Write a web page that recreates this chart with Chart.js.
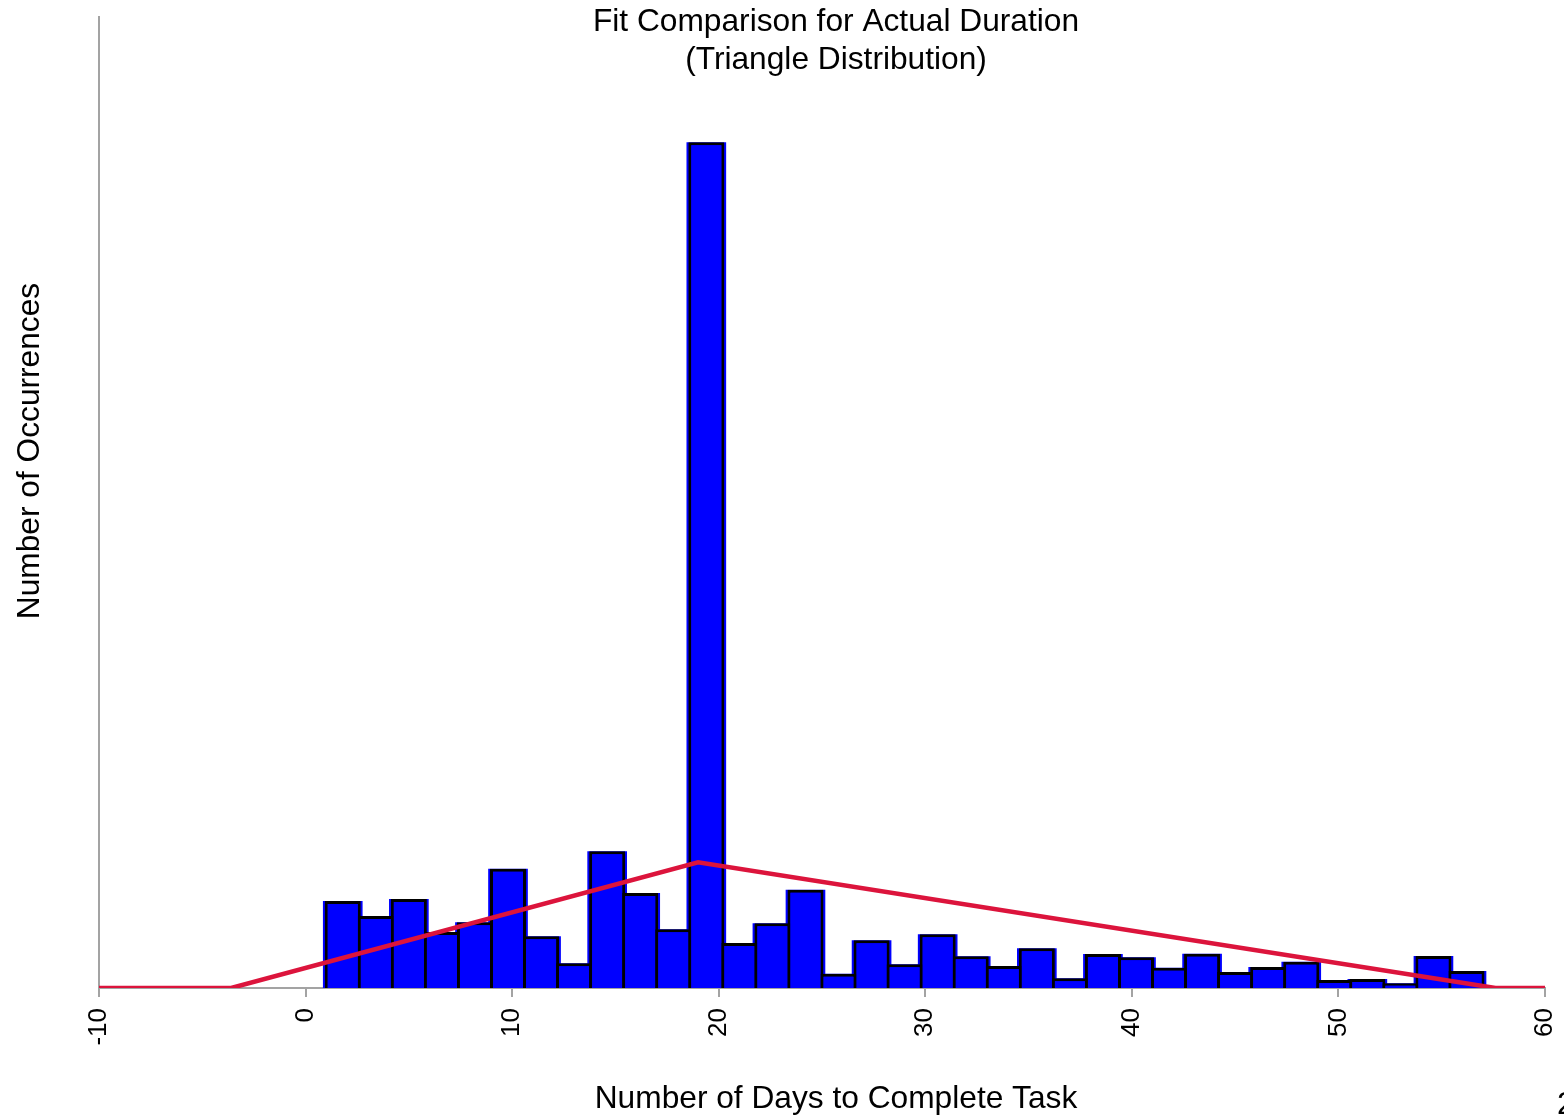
<!DOCTYPE html>
<html>
<head>
<meta charset="utf-8">
<title>Fit Comparison for Actual Duration</title>
<script src="https://cdn.jsdelivr.net/npm/chart.js@4/dist/chart.umd.min.js"></script>
<style>
  html, body { margin: 0; padding: 0; background: #ffffff; }
  #wrap { position: relative; width: 1564px; height: 1118px; }
</style>
</head>
<body>
<div id="wrap"><canvas id="chart" width="1564" height="1118"></canvas></div>
<script>
// Histogram bin centres (days), bins 1.6 days wide from 1 to 57
const binCenters = [1.8, 3.4, 5.0, 6.6, 8.2, 9.8, 11.4, 13.0, 14.6, 16.2, 17.8, 19.4,
  21.0, 22.6, 24.2, 25.8, 27.4, 29.0, 30.6, 32.2, 33.8, 35.4, 37.0, 38.6, 40.2, 41.8,
  43.4, 45.0, 46.6, 48.2, 49.8, 51.4, 53.0, 54.6, 56.2];

// Occurrences per bin
const occurrences = [87, 72, 89, 56, 65.7, 119.3, 51.7, 24.7, 136.7, 95, 58.7, 845.7,
  45, 64.7, 98.3, 14.3, 47.7, 23.7, 53.7, 31.7, 22, 39.7, 9.7, 34, 30.7, 20.3, 34.3,
  16, 21, 26.3, 8, 9, 4.7, 32, 17];

// Fitted triangle distribution (min, mode, max), scaled to the histogram
const fitDays = [-10, -3.6, 19, 57.6, 60];
const fitCounts = [0, 0, 125.7, 0, 0];

// Axis ticks
const xTicks = [-10, 0, 10, 20, 30, 40, 50, 60];

const titleLines = ['Fit Comparison for Actual Duration', '(Triangle Distribution)'];
const xTitle = 'Number of Days to Complete Task';
const yTitle = 'Number of Occurrences';
const pageNumber = '2';

const FONT = "'Liberation Sans', Arial, Helvetica, sans-serif";
const AXIS_GREY = '#a3a3a3';

const histPoints = binCenters.map((d, i) => ({ x: d, y: occurrences[i] }));
const fitPoints = fitDays.map((d, i) => ({ x: d, y: fitCounts[i] }));

// Titles and axis captions
const captions = {
  id: 'captions',
  afterDraw(chart) {
    const { ctx } = chart;
    const cx = 836;
    ctx.save();
    ctx.fillStyle = '#000000';
    ctx.font = '31.7px ' + FONT;
    ctx.textAlign = 'center';
    ctx.textBaseline = 'alphabetic';
    ctx.fillText(titleLines[0], cx, 31);
    ctx.fillText(titleLines[1], cx, 69);
    ctx.fillText(xTitle, cx, 1108);

    ctx.save();
    ctx.translate(30, 451);
    ctx.rotate(-Math.PI / 2);
    ctx.textBaseline = 'middle';
    ctx.fillText(yTitle, 0, 0);
    ctx.restore();

    ctx.textAlign = 'left';
    ctx.fillText(pageNumber, 1557, 1114);
    ctx.restore();
  }
};

new Chart(document.getElementById('chart'), {
  type: 'bar',
  data: {
    datasets: [
      {
        type: 'line',
        label: 'Triangle fit',
        data: fitPoints,
        borderColor: '#dc143c',
        borderWidth: 4.5,
        pointRadius: 0,
        tension: 0,
        fill: false,
        order: 0
      },
      {
        label: 'Actual duration',
        data: histPoints,
        backgroundColor: '#0000ff',
        borderColor: '#000000',
        borderWidth: 3,
        borderSkipped: 'start',
        grouped: false,
        barPercentage: 1.09,
        categoryPercentage: 1,
        order: 1
      },
      {
        label: 'Actual duration (fill)',
        data: histPoints,
        backgroundColor: '#0000ff',
        borderWidth: 0,
        grouped: false,
        barPercentage: 1.2,
        categoryPercentage: 1,
        order: 2
      }
    ]
  },
  options: {
    responsive: false,
    animation: false,
    devicePixelRatio: 1,
    layout: { padding: { left: 99, right: 19, top: 17, bottom: 0 } },
    plugins: {
      legend: { display: false },
      title: { display: false },
      tooltip: { enabled: false }
    },
    scales: {
      x: {
        type: 'linear',
        offset: false,
        min: -10,
        max: 60,
        afterBuildTicks(scale) { scale.ticks = xTicks.map(v => ({ value: v })); },
        afterFit(scale) {
          scale.height = 130;
          scale.paddingLeft = 0;
          scale.paddingRight = 0;
        },
        grid: {
          display: true,
          offset: false,
          drawOnChartArea: false,
          drawTicks: true,
          tickLength: 9,
          color: AXIS_GREY,
          lineWidth: 2
        },
        border: { display: true, color: AXIS_GREY, width: 2 },
        ticks: {
          maxRotation: 90,
          minRotation: 90,
          padding: 11,
          color: '#000000',
          font: { family: FONT, size: 26 },
          callback: (v) => String(v)
        }
      },
      y: {
        type: 'linear',
        min: 0,
        max: 971,
        afterFit(scale) {
          scale.width = 0;
          scale.paddingTop = 0;
          scale.paddingBottom = 0;
        },
        grid: { display: false, drawTicks: false },
        border: { display: true, color: AXIS_GREY, width: 2 },
        ticks: { display: false }
      }
    }
  },
  plugins: [captions]
});
</script>
</body>
</html>
